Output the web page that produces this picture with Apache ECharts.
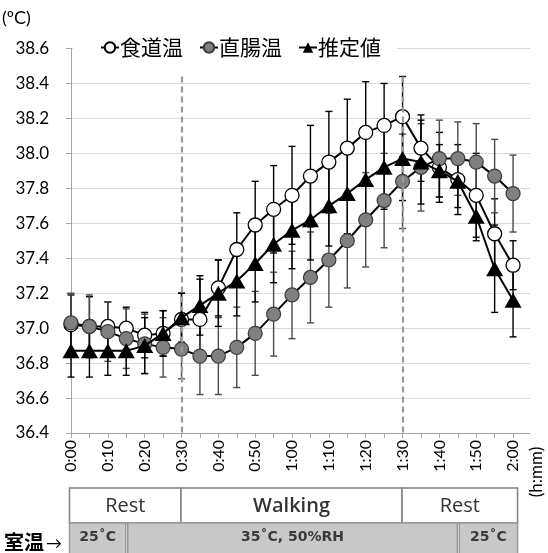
<!DOCTYPE html>
<html>
<head>
<meta charset="utf-8">
<script src="https://cdn.jsdelivr.net/npm/echarts@6/dist/echarts.min.js"></script>
<style>
  html, body { margin: 0; padding: 0; background: #fff; }
  #chart { width: 548px; height: 553px; }
</style>
</head>
<body>
<div id="chart"></div>
<script>
// Elapsed time in minutes, one sample every 5 minutes
const minutes = [0, 5, 10, 15, 20, 25, 30, 35, 40, 45, 50, 55, 60, 65, 70, 75, 80, 85, 90, 95, 100, 105, 110, 115, 120];

// Mean temperatures (°C)
const esophageal = [37.02, 37.01, 37.01, 37.00, 36.96, 36.97, 37.05, 37.05, 37.23, 37.45, 37.59, 37.68, 37.76, 37.87, 37.95, 38.03, 38.12, 38.16, 38.21, 38.03, 37.92, 37.85, 37.76, 37.54, 37.36];
const rectal     = [37.03, 37.01, 36.98, 36.94, 36.91, 36.89, 36.88, 36.84, 36.84, 36.89, 36.97, 37.08, 37.19, 37.29, 37.39, 37.50, 37.62, 37.73, 37.84, 37.92, 37.97, 37.97, 37.95, 37.87, 37.77];
const estimated  = [36.87, 36.87, 36.87, 36.87, 36.90, 36.97, 37.06, 37.13, 37.20, 37.27, 37.37, 37.48, 37.56, 37.62, 37.70, 37.77, 37.85, 37.92, 37.97, 37.95, 37.90, 37.84, 37.64, 37.34, 37.16];

// Standard deviations (°C)
const esophagealSD = [0.17, 0.17, 0.14, 0.12, 0.13, 0.13, 0.15, 0.23, 0.16, 0.21, 0.25, 0.25, 0.28, 0.29, 0.29, 0.28, 0.29, 0.24, 0.23, 0.19, 0.20, 0.20, 0.24, 0.20, 0.14];
const rectalSD     = [0.17, 0.18, 0.17, 0.17, 0.17, 0.17, 0.17, 0.22, 0.22, 0.23, 0.24, 0.24, 0.25, 0.26, 0.27, 0.27, 0.27, 0.27, 0.27, 0.25, 0.22, 0.21, 0.22, 0.21, 0.22];
const estimatedSD  = [0.15, 0.15, 0.14, 0.14, 0.16, 0.13, 0.14, 0.17, 0.19, 0.20, 0.22, 0.22, 0.22, 0.23, 0.23, 0.23, 0.24, 0.24, 0.24, 0.24, 0.15, 0.15, 0.14, 0.25, 0.21];

// Axis ticks and labels
const tickMinutes  = [0, 5, 10, 15, 20, 25, 30, 35, 40, 45, 50, 55, 60, 65, 70, 75, 80, 85, 90, 95, 100, 105, 110, 115, 120];
const labelMinutes = [0, 10, 20, 30, 40, 50, 60, 70, 80, 90, 100, 110, 120];

// Protocol phases and room conditions
const phaseNames  = ['Rest', 'Walking', 'Rest'];
const phaseBounds = [0, 30, 90, 120];
const roomNames   = ['25˚C', '35˚C, 50%RH', '25˚C'];
const roomBounds  = [0, 15, 105, 120];
const phaseMarks  = [30, 90];

const seriesNames = ['食道温', '直腸温', '推定値'];

const NUM_FONT = 'Lato, "Open Sans", sans-serif';
const JP_FONT = '"Noto Sans CJK JP", sans-serif';

const fmtTime = m => Math.floor(m / 60) + ':' + String(m % 60).padStart(2, '0');
const points = vals => minutes.map((m, i) => [m, vals[i]]);
const ranges = (vals, sd) => minutes.map((m, i) => [m, vals[i] - sd[i], vals[i] + sd[i]]);

function errorBar(color) {
  return function (params, api) {
    const x = api.value(0);
    const lo = api.coord([x, api.value(1)]);
    const hi = api.coord([x, api.value(2)]);
    const w = 3.5;
    const style = { stroke: color, lineWidth: 1.4, fill: null };
    return {
      type: 'group',
      children: [
        { type: 'line', shape: { x1: lo[0], y1: lo[1], x2: hi[0], y2: hi[1] }, style },
        { type: 'line', shape: { x1: lo[0] - w, y1: lo[1], x2: lo[0] + w, y2: lo[1] }, style },
        { type: 'line', shape: { x1: hi[0] - w, y1: hi[1], x2: hi[0] + w, y2: hi[1] }, style }
      ]
    };
  };
}

function barSeries(vals, sd, color) {
  return {
    type: 'custom',
    renderItem: errorBar(color),
    data: ranges(vals, sd),
    encode: { x: 0, y: [1, 2] },
    z: 2,
    silent: true
  };
}

const chart = echarts.init(document.getElementById('chart'), null, { renderer: 'canvas' });

chart.setOption({
  animation: false,
  backgroundColor: '#fff',
  grid: { left: 71, right: 18, top: 48.5, bottom: 120, containLabel: false },
  legend: {
    data: seriesNames,
    left: 73,
    top: 35,
    itemWidth: 18,
    itemHeight: 13,
    itemGap: 16,
    backgroundColor: '#fff',
    padding: [2, 16, 2, 27],
    textStyle: { fontFamily: JP_FONT, fontSize: 21, color: '#000', padding: [0, 0, 0, -4] }
  },
  xAxis: {
    type: 'value',
    min: 0,
    max: 124.6,
    interval: 10,
    axisLine: { show: true, onZero: false, lineStyle: { color: '#a6a6a6', width: 1 } },
    axisTick: { show: true, length: 5, lineStyle: { color: '#a6a6a6' }, customValues: tickMinutes },
    axisLabel: {
      rotate: 90, margin: 7, fontSize: 16, color: '#000', fontFamily: NUM_FONT,
      customValues: labelMinutes, formatter: v => fmtTime(Math.round(v))
    },
    splitLine: { show: false }
  },
  yAxis: {
    type: 'value',
    min: 36.4,
    max: 38.6,
    interval: 0.2,
    axisLine: { show: true, lineStyle: { color: '#a6a6a6', width: 1 } },
    axisTick: { show: true, length: 5, lineStyle: { color: '#a6a6a6' } },
    axisLabel: { margin: 22, fontSize: 17, color: '#000', fontFamily: NUM_FONT, formatter: v => v.toFixed(1) },
    splitLine: { show: true, lineStyle: { color: '#d9d9d9', width: 1 } }
  },
  series: [
    {
      name: 'phase',
      type: 'line',
      data: [],
      z: 1,
      silent: true,
      markLine: {
        symbol: 'none',
        silent: true,
        label: { show: false },
        lineStyle: { color: '#9a9a9a', width: 2.2, type: [6, 4] },
        data: phaseMarks.map(m => [{ coord: [m, 38.44] }, { coord: [m, 36.4] }])
      }
    },
    barSeries(esophageal, esophagealSD, '#000'),
    barSeries(rectal, rectalSD, '#4a4a4a'),
    barSeries(estimated, estimatedSD, '#000'),
    {
      name: seriesNames[0],
      type: 'line',
      data: points(esophageal),
      symbol: 'circle',
      symbolSize: 14,
      z: 3,
      lineStyle: { color: '#000', width: 2 },
      itemStyle: { color: '#fff', borderColor: '#000', borderWidth: 1.3 }
    },
    {
      name: seriesNames[1],
      type: 'line',
      data: points(rectal),
      symbol: 'circle',
      symbolSize: 14,
      z: 4,
      lineStyle: { color: '#000', width: 2 },
      itemStyle: { color: '#808080', borderColor: '#3a3a3a', borderWidth: 1.2 }
    },
    {
      name: seriesNames[2],
      type: 'line',
      data: points(estimated),
      symbol: 'triangle',
      symbolSize: [17, 15],
      z: 5,
      lineStyle: { color: '#000', width: 2 },
      itemStyle: { color: '#000' }
    }
  ]
});

// Protocol table under the time axis, aligned to the axis scale
const toX = m => chart.convertToPixel({ xAxisIndex: 0 }, m);
const graphics = [
  { type: 'text', left: 2, top: 9, style: { text: '(ºC)', font: '18px ' + NUM_FONT, fill: '#000' } },
  {
    type: 'text', x: 537, y: 472, rotation: Math.PI / 2,
    style: { text: '(h:mm)', font: '17px ' + NUM_FONT, fill: '#000', align: 'center', verticalAlign: 'middle' }
  },
  { type: 'text', x: 4, y: 532, style: { text: '室温', font: 'bold 20px ' + JP_FONT, fill: '#000' } },
  { type: 'text', x: 46, y: 536, style: { text: '→', font: '16px ' + NUM_FONT, fill: '#000' } }
];

const rowTop = 488, rowH = 35, row2Top = 523, row2H = 32;
const xStart = toX(phaseBounds[0]) - 1.5;
const xEnd = toX(phaseBounds[phaseBounds.length - 1]) + 4.5;
for (let i = 0; i < phaseNames.length; i++) {
  const x0 = i === 0 ? xStart : toX(phaseBounds[i]) - 0.5;
  const x1 = i === phaseNames.length - 1 ? xEnd : toX(phaseBounds[i + 1]) - 0.5;
  graphics.push({
    type: 'rect', shape: { x: x0, y: rowTop, width: x1 - x0, height: rowH },
    style: { fill: '#fff', stroke: '#808080', lineWidth: 1.5 }
  });
  graphics.push({
    type: 'text', x: (x0 + x1) / 2, y: rowTop + rowH / 2 + 1,
    style: {
      text: phaseNames[i], font: (phaseNames[i] === 'Walking' ? '600 ' : '') + '20px "Open Sans", sans-serif',
      fill: '#333', align: 'center', verticalAlign: 'middle'
    }
  });
}
for (let i = 0; i < roomNames.length; i++) {
  const x0 = (i === 0 ? xStart : toX(roomBounds[i]) + 1.5);
  const x1 = (i === roomNames.length - 1 ? xEnd : toX(roomBounds[i + 1]) - 0.5);
  graphics.push({
    type: 'rect', shape: { x: x0, y: row2Top, width: x1 - x0, height: row2H },
    style: { fill: '#c8c8c8', stroke: '#9a9a9a', lineWidth: 1.5 }
  });
  graphics.push({
    type: 'text', x: (x0 + x1) / 2, y: row2Top + 14,
    style: {
      text: roomNames[i], font: 'bold 14px "DejaVu Sans", sans-serif',
      fill: '#3a3a3a', align: 'center', verticalAlign: 'middle'
    }
  });
}
chart.setOption({ graphic: graphics });
</script>
</body>
</html>
